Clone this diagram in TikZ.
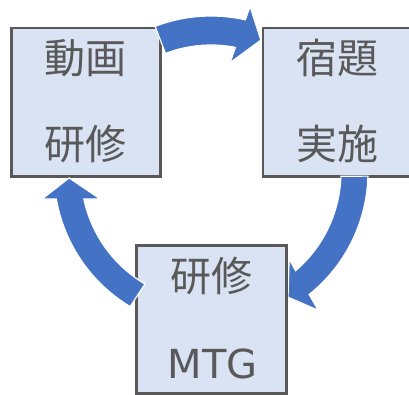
\documentclass[tikz,border=0pt]{standalone}
\usepackage{fontspec}
\newfontfamily\jpfont{Noto Sans CJK JP}
\newfontfamily\latfont{DejaVu Sans}
\definecolor{boxfill}{HTML}{DAE3F3}
\definecolor{boxline}{HTML}{595959}
\definecolor{textgray}{HTML}{595959}
\definecolor{arrowblue}{HTML}{4472C4}
\begin{document}
\begin{tikzpicture}[x=1pt,y=-1pt,
  box/.style={draw=boxline, fill=boxfill, line width=2.8pt, inner sep=0pt, outer sep=0pt},
  cyc/.style={fill=arrowblue, draw=white, line width=1.2pt, line join=miter},
  lbl/.style={anchor=base, inner sep=0pt, text=textgray, font=\jpfont\fontsize{41}{41}\selectfont},
  lat/.style={anchor=base, inner sep=0pt, text=textgray, font=\latfont\fontsize{40}{40}\selectfont}]
\useasboundingbox (0,0) rectangle (409,395);
\coordinate (c) at (211,172);
% boxes 1 and 2
\node[box, minimum width=149pt, minimum height=148.3pt] (b1) at (86,102.15) {};
\node[box, minimum width=149pt, minimum height=148.3pt] (b2) at (337.5,102.15) {};
% top arrow
\path[cyc, shift={(c)}] (-111:156) arc[start angle=-111, end angle=-77.3, radius=156]
  -- (-76.7:170) -- (-69.3:141) -- (-80.1:111) -- (-78.9:127)
  arc[start angle=-78.9, end angle=-111, radius=127] -- cycle;
% right arrow
\path[cyc, shift={(c)}] (1.5:157) arc[start angle=1.5, end angle=51.3, radius=157]
  -- (52.2:175) -- (58.4:147) -- (48.1:117) -- (49.4:130)
  arc[start angle=49.4, end angle=1.9, radius=130] -- cycle;
% box 3
\node[box, minimum width=149.8pt, minimum height=147.7pt] (b3) at (211.6,319.35) {};
% left arrow
\path[cyc, shift={(c)}] (121:157) arc[start angle=121, end angle=170.1, radius=157]
  -- (170.9:171) -- (177.6:142) -- (166.3:114) -- (168:130)
  arc[start angle=168, end angle=120.5, radius=130] -- cycle;
% labels
\node[lbl] (t1a) at (85.5,74) {動画};
\node[lbl] (t1b) at (85.5,159.6) {研修};
\node[lbl] (t2a) at (337.5,74) {宿題};
\node[lbl] (t2b) at (337.5,159.6) {実施};
\node[lbl] (t3a) at (211.5,291) {研修};
\node[lat] (t3b) at (212.5,378.3) {MTG};
\end{tikzpicture}
\end{document}
